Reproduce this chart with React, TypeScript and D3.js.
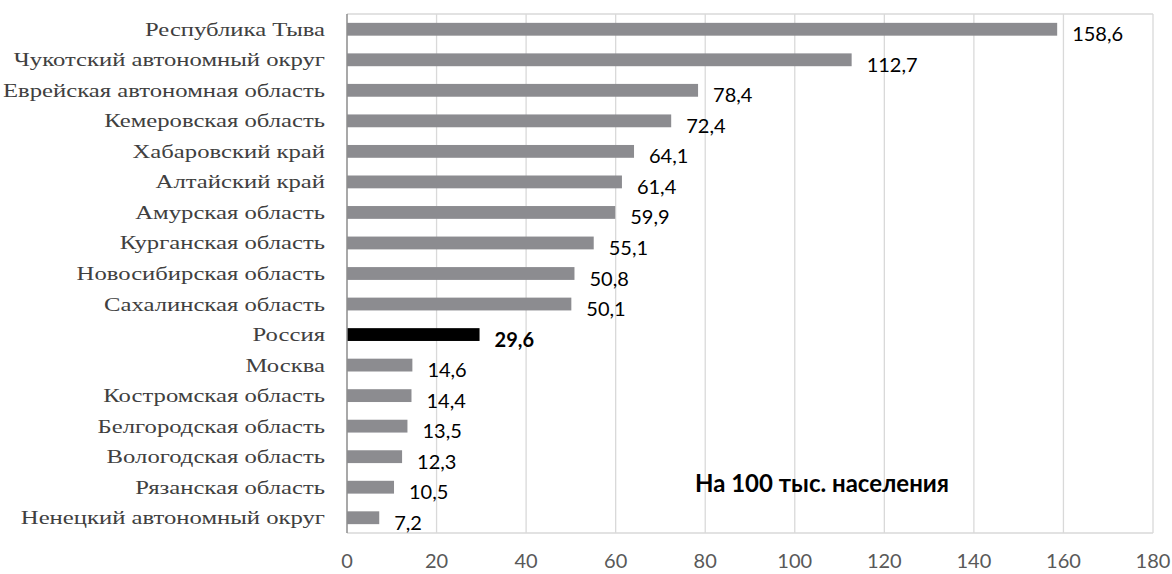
import React from 'react'
import { scaleLinear, scaleBand } from 'd3'

const regions = [
  'Республика Тыва',
  'Чукотский автономный округ',
  'Еврейская автономная область',
  'Кемеровская область',
  'Хабаровский край',
  'Алтайский край',
  'Амурская область',
  'Курганская область',
  'Новосибирская область',
  'Сахалинская область',
  'Россия',
  'Москва',
  'Костромская область',
  'Белгородская область',
  'Вологодская область',
  'Рязанская область',
  'Ненецкий автономный округ',
]
const values = [158.6, 112.7, 78.4, 72.4, 64.1, 61.4, 59.9, 55.1, 50.8, 50.1, 29.6, 14.6, 14.4, 13.5, 12.3, 10.5, 7.2]
const highlight = 'Россия'
const xTicks = [0, 20, 40, 60, 80, 100, 120, 140, 160, 180]
const note = 'На 100 тыс. населения'

const fmt = (v: number) => v.toFixed(1).replace('.', ',')

export default function App() {
  const width = 1172,
    height = 574
  const left = 347,
    right = 1153,
    top = 14,
    bottom = 533

  const x = scaleLinear().domain([0, 180]).range([left, right])
  const y = scaleBand<string>().domain(regions).range([top, bottom]).paddingInner(0.58).paddingOuter(0.29)

  const sans = 'Lato, "Open Sans", sans-serif'

  return (
    <div style={{ position: 'absolute', left: 0, top: 0 }}>
      <svg width={width} height={height} style={{ display: 'block', background: '#fff' }}>
        {/* grid */}
        {xTicks.slice(1).map((t) => (
          <line key={t} x1={x(t)} x2={x(t)} y1={top} y2={bottom} stroke="#d9d9d9" strokeWidth={1.3} />
        ))}
        <line x1={left} x2={right} y1={top} y2={top} stroke="#d9d9d9" strokeWidth={1.3} />
        <line x1={left} x2={right} y1={bottom} y2={bottom} stroke="#d9d9d9" strokeWidth={1.3} />

        {regions.map((r, i) => {
          const yy = y(r)!
          const cy = yy + y.bandwidth() / 2
          const isHi = r === highlight
          return (
            <g key={r}>
              <rect x={x(0)} y={yy} width={x(values[i]) - x(0)} height={y.bandwidth()} fill={isHi ? '#000' : '#8c8c90'} />
              <g transform={`translate(325,${cy + 6.5}) scale(1.3,1)`}>
                <text textAnchor="end" fontFamily='"Liberation Serif", "Times New Roman", serif' fontSize={19} fill="#404040">
                  {r}
                </text>
              </g>
              <text x={x(values[i]) + 15} y={cy + 12} fontFamily={sans} fontSize={20} fontWeight={isHi ? 700 : 400} fill="#000">
                {fmt(values[i])}
              </text>
            </g>
          )
        })}

        {/* y axis line */}
        <line x1={left} x2={left} y1={top} y2={bottom} stroke="#8c8c8c" strokeWidth={1.5} />

        {xTicks.map((t) => (
          <text key={t} x={x(t)} y={568} textAnchor="middle" fontFamily={sans} fontSize={20} fill="#595959">
            {t}
          </text>
        ))}

        <text x={695} y={492} fontFamily={sans} fontSize={24} fontWeight={700} fill="#000">
          {note}
        </text>
      </svg>
    </div>
  )
}
